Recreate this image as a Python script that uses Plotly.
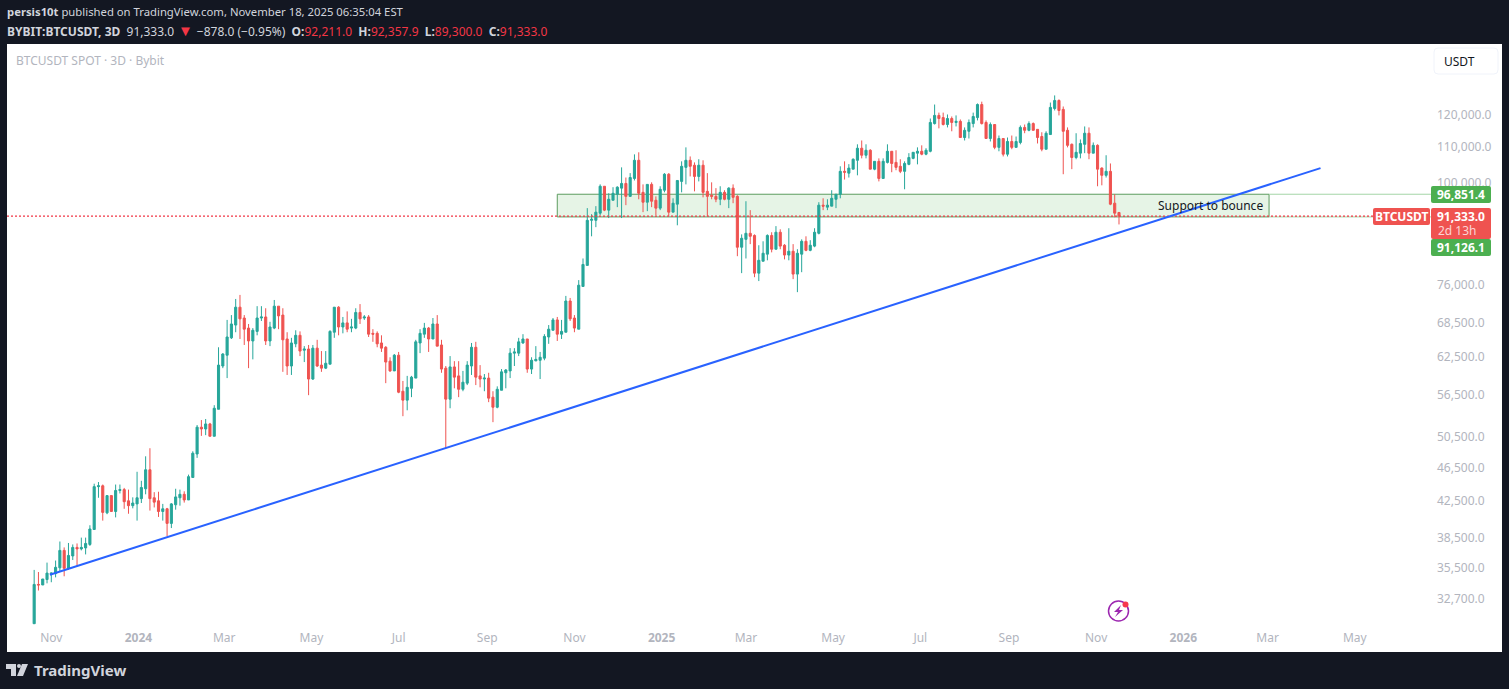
import pandas as pd
import plotly.graph_objects as go

opens = [30550, 33950, 33900, 34400, 34950, 34950, 35500, 37200, 35450, 36650,
         37500, 37350, 37450, 37800, 39350, 44150, 44250, 41150, 43100, 41300,
         43700, 43800, 42500, 41950, 42150, 42750, 43900, 46200, 42850, 42500,
         41300, 41600, 40000, 42050, 42850, 43250, 42600, 45250, 48200, 51800,
         51550, 52250, 50550, 54350, 61050, 62850, 65850, 68150, 71500, 69450,
         67600, 65300, 67000, 69450, 69650, 65300, 67600, 71700, 70000, 65650,
         61050, 64800, 66300, 63700, 63900, 58950, 64050, 61200, 60700, 61350,
         66850, 71500, 67800, 68550, 67600, 67600, 70500, 69450, 69650, 66650,
         66650, 64950, 64200, 61850, 60250, 62850, 57050, 55700, 57500, 59100,
         64950, 66500, 67600, 65650, 68350, 64600, 60700, 55850, 60900, 59450,
         57350, 58300, 61050, 64200, 59450, 58950, 59100, 56150, 54650, 57200,
         59950, 60250, 63200, 63200, 64950, 65650, 60550, 61900, 62000, 62350,
         66000, 67200, 69100, 66500, 66850, 72700, 69450, 67400, 75600, 80000,
         90300, 90300, 92050, 98950, 92800, 95300, 96850, 98450, 99700, 96300,
         101050, 106100, 97350, 94800, 99450, 95300, 93300, 97900, 102200, 92300,
         94300, 100250, 104100, 106100, 104700, 101600, 104700, 97600, 96600, 96300,
         95550, 97350, 95550, 98450, 96300, 84000, 85800, 87200, 86700, 78350,
         80900, 82450, 86700, 83550, 87450, 84450, 82250, 83100, 78150, 82450,
         85350, 83300, 84250, 87200, 94050, 93550, 93800, 95550, 96850, 103000,
         102500, 103600, 106100, 109600, 107550, 109000, 103600, 105800, 101050, 105500,
         108700, 105500, 104400, 103000, 104950, 106650, 108150, 108700, 107850, 108700,
         117100, 119700, 119000, 116800, 118700, 117450, 117800, 112800, 114700, 117100,
         119000, 123250, 117450, 112500, 116800, 109850, 112500, 107850, 111600, 109850,
         111300, 115900, 115000, 117100, 115300, 113100, 109300, 113700, 121950, 124600,
         121650, 115000, 110750, 106900, 108150, 110750, 114100, 108150, 110450, 103900,
         101900, 103000, 94550, 92211]

highs = [35300, 35100, 34450, 36000, 35050, 36200, 38100, 37500, 37950, 37800,
         37900, 38500, 38500, 39800, 44500, 44700, 44400, 43150, 43100, 44400,
         44400, 44000, 43800, 42900, 45950, 44850, 47900, 48950, 43500, 43550,
         42150, 41700, 42250, 43900, 43800, 43600, 45600, 48550, 52100, 52800,
         52950, 52400, 54950, 64200, 63200, 69100, 70000, 73100, 73900, 70000,
         68350, 67600, 71700, 71700, 71300, 68750, 72900, 71700, 71300, 66850,
         65850, 67200, 67000, 64400, 64600, 64600, 65500, 63550, 63550, 67200,
         71500, 71700, 69650, 70700, 69300, 71300, 72100, 70000, 70000, 67400,
         67000, 66300, 64400, 62500, 63050, 63400, 58650, 59450, 59450, 65500,
         67400, 68550, 67800, 69450, 70000, 65500, 61050, 62700, 61850, 61850,
         60250, 61850, 64950, 65150, 61200, 59750, 59950, 57050, 57800, 60550,
         60550, 64050, 64050, 65850, 66500, 65650, 62500, 64400, 63400, 66500,
         68150, 69450, 69650, 69100, 73700, 73300, 70000, 76900, 81500, 93300,
         91800, 93800, 99450, 98950, 97100, 98700, 98950, 104100, 101300, 102500,
         107800, 108400, 99450, 99450, 100000, 96300, 98950, 102500, 102500, 95800,
         100500, 105800, 109850, 107200, 105500, 106400, 106100, 102500, 100000, 98450,
         98950, 97900, 98700, 99450, 96600, 86950, 95050, 92800, 86950, 84450,
         85350, 86950, 87450, 88900, 88150, 84700, 88400, 84700, 83550, 85800,
         86500, 85600, 88400, 94800, 95800, 95550, 97900, 96850, 104400, 105800,
         105000, 106650, 110750, 111900, 110750, 109300, 105800, 106650, 106650, 110750,
         108700, 109000, 106400, 105800, 108150, 108400, 109850, 110450, 109600, 118700,
         123250, 120600, 120600, 120000, 119350, 119700, 118400, 115900, 118400, 120600,
         123600, 124200, 118100, 117450, 116800, 113400, 112500, 112800, 113400, 113100,
         116500, 116800, 117800, 117450, 115300, 114400, 114700, 123900, 126300, 124950,
         122600, 115900, 111000, 114100, 112200, 116200, 115900, 111300, 110750, 104100,
         107550, 105200, 96850, 92358]

lows = [30550, 33400, 33900, 34050, 34150, 34600, 35200, 34700, 35300, 36250,
        35650, 37200, 36800, 37650, 39350, 42850, 40300, 41000, 41300, 40650,
        43350, 41600, 41050, 41650, 40300, 42250, 43250, 41400, 41750, 40700,
        40300, 38650, 39500, 41500, 41950, 42300, 42600, 45250, 47700, 50600,
        50700, 50550, 50550, 54350, 60700, 59100, 65650, 66850, 65650, 64600,
        60700, 62150, 66300, 68900, 64600, 64400, 67400, 67400, 60100, 59600,
        59600, 64200, 62700, 61700, 56450, 58800, 60900, 60100, 60550, 61350,
        65850, 66300, 66650, 66850, 66850, 67400, 68350, 69100, 66000, 65150,
        64200, 63400, 58300, 60100, 60250, 56750, 53350, 54200, 56150, 59100,
        63200, 65850, 63400, 65650, 64400, 59950, 48950, 54500, 57500, 56150,
        57050, 58000, 59600, 58000, 57650, 57050, 55400, 52500, 54500, 57200,
        57500, 59100, 61050, 62700, 64800, 59950, 59750, 61850, 58950, 62000,
        64800, 67200, 65300, 65650, 66850, 68900, 66850, 67400, 75600, 80000,
        86500, 88650, 91550, 92550, 90850, 95300, 93550, 90850, 94050, 96150,
        100500, 95550, 92300, 92550, 93550, 91550, 92800, 97350, 91300, 92300,
        89100, 97350, 99450, 101600, 97600, 100250, 96050, 91300, 95550, 94800,
        94050, 95300, 93300, 94550, 82000, 78350, 81500, 84700, 77500, 76700,
        80900, 81100, 82850, 83550, 83550, 81300, 81100, 77100, 74450, 78550,
        83100, 83100, 84000, 86950, 92800, 92800, 93800, 93300, 95800, 100750,
        101300, 103600, 101900, 106650, 106650, 103600, 103300, 100250, 101050, 105200,
        102750, 103300, 102500, 98150, 104700, 106400, 104950, 107550, 107550, 108400,
        116800, 115600, 116500, 115900, 114700, 116200, 112800, 111900, 112500, 115900,
        118100, 116800, 112500, 111600, 109300, 108700, 107200, 107200, 109300, 109850,
        110750, 114100, 114700, 115000, 111000, 108700, 109300, 113700, 121300, 119700,
        102200, 109850, 103600, 106400, 106650, 108150, 106400, 108150, 98950, 99200,
        101300, 94050, 91050, 89300]

closes = [33950, 33900, 34450, 35000, 35000, 35550, 37200, 35450, 36700, 37500,
          37350, 37500, 37900, 39400, 44150, 44250, 41200, 43100, 41300, 43700,
          43800, 42400, 41950, 42250, 42850, 44050, 46200, 42750, 42350, 41300,
          41600, 40000, 42150, 42950, 43250, 42600, 45350, 48300, 51800, 51550,
          52250, 50550, 54500, 61200, 63050, 66000, 68350, 71500, 69300, 67400,
          65300, 67200, 69450, 69650, 65300, 67800, 71700, 69850, 65500, 61050,
          64950, 66300, 63550, 63900, 58950, 64050, 61050, 60700, 61500, 67000,
          71500, 67800, 68550, 67400, 67800, 70500, 69300, 69650, 66500, 66500,
          64800, 64050, 61700, 60250, 62850, 56900, 55700, 57650, 59250, 65150,
          66650, 67600, 65650, 68350, 64400, 60550, 55850, 60900, 59250, 57350,
          58450, 61200, 64200, 59250, 58950, 59100, 56000, 54650, 57350, 60100,
          60400, 63200, 63400, 65150, 65650, 60550, 62000, 62150, 62500, 66100,
          67400, 69100, 66500, 67000, 72700, 69300, 67600, 75850, 80200, 90300,
          90550, 92300, 98950, 92800, 95550, 97100, 98700, 99700, 96300, 101300,
          106100, 97100, 94800, 99450, 95050, 93300, 98150, 102200, 92300, 94550,
          100500, 104400, 106100, 104400, 101600, 104700, 97350, 96300, 96300, 95550,
          97350, 95550, 98450, 96050, 84000, 86050, 87200, 86500, 78350, 81100,
          82650, 86700, 83550, 87450, 84250, 82250, 83100, 78150, 82650, 85350,
          83300, 84450, 87450, 94050, 93800, 94050, 95800, 96850, 103000, 102750,
          103900, 106400, 109600, 107550, 109000, 103600, 105800, 101050, 105800, 108700,
          105200, 104100, 103000, 105200, 106900, 108400, 108700, 107850, 109000, 117450,
          119700, 118700, 116800, 118700, 117450, 117800, 112800, 115000, 117450, 119350,
          123250, 117100, 112500, 116800, 109850, 112500, 107850, 111600, 109850, 111600,
          115900, 115000, 117100, 115000, 112800, 109300, 114100, 122300, 124600, 121300,
          114700, 110450, 106900, 108400, 111000, 114100, 108150, 110450, 103600, 101900,
          103000, 94300, 92050, 91333]

dates = pd.date_range("2023-10-20", periods=len(opens), freq="3D")

tick_dates = ["2023-11-01", "2024-01-01", "2024-03-01", "2024-05-01", "2024-07-01",
              "2024-09-01", "2024-11-01", "2025-01-01", "2025-03-01", "2025-05-01",
              "2025-07-01", "2025-09-01", "2025-11-01", "2026-01-01", "2026-03-01",
              "2026-05-01"]
tick_names = ["Nov", "<b>2024</b>", "Mar", "May", "Jul", "Sep", "Nov", "<b>2025</b>", "Mar",
              "May", "Jul", "Sep", "Nov", "<b>2026</b>", "Mar", "May"]
price_ticks = [120000, 110000, 100000, 76000, 68500, 62500, 56500, 50500, 46500,
               42500, 38500, 35500, 32700]

trend_dates = ["2023-10-31", "2026-04-07"]
trend_prices = [34850, 103900]
zone_dates = ["2024-10-20", "2026-03-02"]
zone_prices = [91126.1, 96851.4]
last_price = 91333.0
last_line_dates = ["2023-10-01", "2026-05-14"]
x_range = ["2023-10-01", "2026-06-24"]

FONT = "Noto Sans"
BG = "#131722"
UP = "#26a69a"
DOWN = "#ef5350"
RED_TEXT = "#f23645"
L, R, T, B = 7, 1432, 44, 625


def px(x):
    return (x - L) / (R - L)


def py(y):
    return (B - y) / (B - T)


def rounded(x0, y0, x1, y1, r=2):
    # path in page pixels, converted to paper units
    pts = [f"M{px(x0 + r)},{py(y0)}", f"L{px(x1 - r)},{py(y0)}",
           f"Q{px(x1)},{py(y0)} {px(x1)},{py(y0 + r)}", f"L{px(x1)},{py(y1 - r)}",
           f"Q{px(x1)},{py(y1)} {px(x1 - r)},{py(y1)}", f"L{px(x0 + r)},{py(y1)}",
           f"Q{px(x0)},{py(y1)} {px(x0)},{py(y1 - r)}", f"L{px(x0)},{py(y0 + r)}",
           f"Q{px(x0)},{py(y0)} {px(x0 + r)},{py(y0)}", "Z"]
    return " ".join(pts)


def poly(points):
    return "M" + " L".join(f"{px(a)},{py(b)}" for a, b in points) + " Z"


def tag(x0, y0, x1, y1, color):
    return dict(type="path", xref="paper", yref="paper", path=rounded(x0, y0, x1, y1),
                fillcolor=color, line_width=0, layer="above")


def label(x, y, text, color, size=12, anchor="left"):
    return dict(xref="paper", yref="paper", x=px(x), y=py(y), text=text, showarrow=False,
                borderpad=0, xanchor=anchor, yanchor="middle",
                font=dict(family=FONT, size=size, color=color))


fig = go.Figure()
fig.add_trace(go.Scatter(x=last_line_dates, y=[last_price, last_price], mode="lines",
                         line=dict(color=RED_TEXT, width=1.2, dash="2px,2px"), showlegend=False))
fig.add_trace(go.Candlestick(x=dates, open=opens, high=highs, low=lows, close=closes,
                             increasing=dict(line=dict(color=UP, width=1), fillcolor=UP),
                             decreasing=dict(line=dict(color=DOWN, width=1), fillcolor=DOWN),
                             showlegend=False))
fig.add_trace(go.Scatter(x=trend_dates, y=trend_prices, mode="lines",
                         line=dict(color="#2962ff", width=2), showlegend=False))

shapes = [
    # white chart panel
    dict(type="rect", xref="paper", yref="paper", x0=px(7), x1=px(1502), y0=py(652), y1=py(44),
         fillcolor="white", line_width=0, layer="below"),
    # support zone
    dict(type="rect", x0=zone_dates[0], x1=zone_dates[1], y0=zone_prices[0], y1=zone_prices[1],
         fillcolor="rgba(76,175,80,0.14)", line=dict(color="#5d9c60", width=1), layer="below"),
    dict(type="line", x0=zone_dates[1], x1=x_range[1], y0=zone_prices[1], y1=zone_prices[1],
         line=dict(color="#a5d6a7", width=1), layer="below"),
    dict(type="line", x0=zone_dates[1], x1=x_range[1], y0=zone_prices[0], y1=zone_prices[0],
         line=dict(color="#a5d6a7", width=1), layer="below"),
    # USDT button
    dict(type="path", xref="paper", yref="paper", path=rounded(1434, 48, 1498, 74, 4),
         fillcolor="white", line=dict(color="#f0f3fa", width=1), layer="above"),
    # price tags
    tag(1431, 186, 1491, 203, "#4caf50"),
    tag(1431, 239, 1491, 256, "#4caf50"),
    tag(1431, 208, 1491, 239, DOWN),
    tag(1373, 208, 1430, 225, DOWN),
    # TradingView logo
    dict(type="path", xref="paper", yref="paper", fillcolor="#d1d4dc", line_width=0, layer="above",
         path=poly([(6, 664), (16, 664), (16, 676), (11, 676), (11, 669), (6, 669)])),
    dict(type="circle", xref="paper", yref="paper", x0=px(17), x1=px(21), y0=py(668), y1=py(664),
         fillcolor="#d1d4dc", line_width=0, layer="above"),
    dict(type="path", xref="paper", yref="paper", fillcolor="#d1d4dc", line_width=0, layer="above",
         path=poly([(22, 664), (28, 664), (23, 676), (17, 676)])),
    # lightning icon
    dict(type="circle", xref="paper", yref="paper", x0=px(1108.5), x1=px(1128.5), y0=py(621), y1=py(601),
         fillcolor="white", line=dict(color="#9c27b0", width=1.5), layer="above"),
    dict(type="path", xref="paper", yref="paper", fillcolor="#9c27b0", line_width=0, layer="above",
         path=poly([(1121, 605), (1114, 612), (1118, 612), (1115, 617), (1123, 610), (1119, 610)])),
    dict(type="circle", xref="paper", yref="paper", x0=px(1122.5), x1=px(1128.5), y0=py(607.5), y1=py(601.5),
         fillcolor="#f7374f", line_width=0, layer="above"),
]

annotations = [
    label(6, 12, "<b>persis10t</b> published on TradingView.com, November 18, 2025 06:35:04 EST",
          "#d1d4dc", size=11.3),
    label(6, 29.5, "<b>BYBIT:BTCUSDT, 3D</b>  91,333.0<span style='color:#f23645;font-size:15px'> ▼ </span>−878.0 (−0.95%)  "
                   f"<b>O:</b><span style='color:{RED_TEXT}'>92,211.0</span>  "
                   f"<b>H:</b><span style='color:{RED_TEXT}'>92,357.9</span>  "
                   f"<b>L:</b><span style='color:{RED_TEXT}'>89,300.0</span>  "
                   f"<b>C:</b><span style='color:{RED_TEXT}'>91,333.0</span>", "#d1d4dc"),
    label(15, 60, "BTCUSDT SPOT · 3D · Bybit", "#b2b5be"),
    label(1443, 61, "USDT", "#131722"),
    label(1264, 205, "Support to bounce", "#131722", anchor="right"),
    label(1461, 194.5, "<b>96,851.4</b>", "white", anchor="center"),
    label(1461, 216, "<b>91,333.0</b>", "white", anchor="center"),
    label(1457, 230, "2d 13h", "#fbd5d5", anchor="center"),
    label(1461, 247.5, "<b>91,126.1</b>", "white", anchor="center"),
    label(1401.5, 216.5, "<b>BTCUSDT</b>", "white", anchor="center"),
    label(33, 670, "<b>TradingView</b>", "#d1d4dc", size=15),
]

fig.update_layout(width=1509, height=689, autosize=False,
                  margin=dict(l=L, r=1509 - R, t=T, b=689 - B),
                  paper_bgcolor=BG, plot_bgcolor="rgba(0,0,0,0)",
                  shapes=shapes, annotations=annotations,
                  font=dict(family=FONT, size=12, color="#b2b5be"))
fig.update_xaxes(range=x_range, rangeslider_visible=False,
                 tickvals=tick_dates, ticktext=tick_names, showgrid=False, zeroline=False,
                 showline=False, ticks="", ticklabelstandoff=4)
fig.update_yaxes(type="log", range=[4.4835, 5.1614], side="right", tickvals=price_ticks,
                 tickformat=",.1f", showgrid=False, zeroline=False, showline=False, ticks="",
                 ticklabelstandoff=4)

# the page's default body margin would push the chart off its place
fig.write_html("out.html", config=dict(displayModeBar=False),
               post_script="document.body.style.margin='0';document.body.style.background='#131722';")
